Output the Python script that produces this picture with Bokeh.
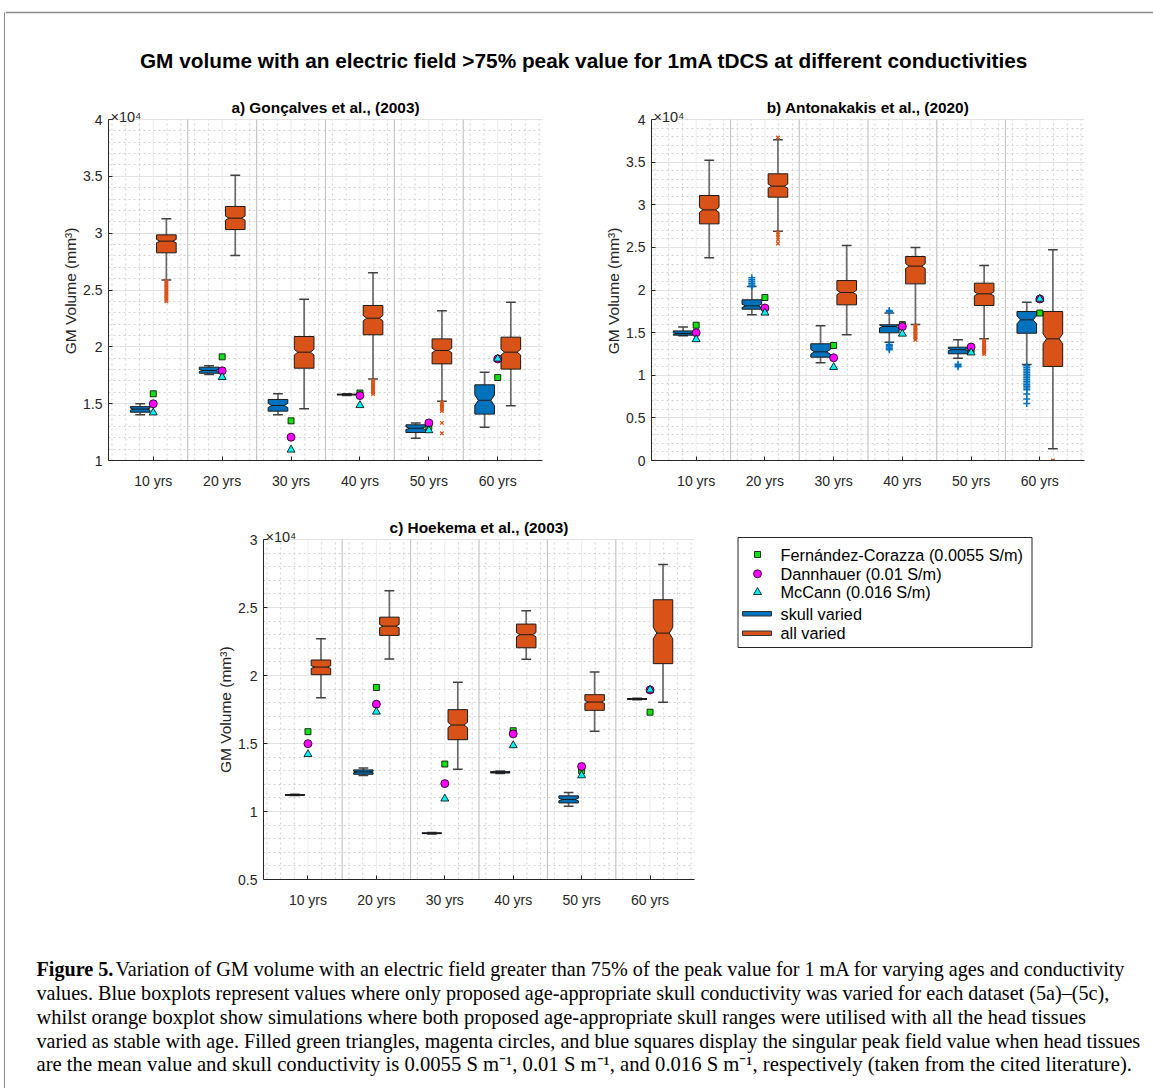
import numpy as np
from bokeh.plotting import figure
from bokeh.models import Range1d, FixedTicker, SingleIntervalTicker, CustomJSTickFormatter, Label
from bokeh.layouts import column, row
from bokeh.embed import file_html
from bokeh.resources import INLINE

# ---------------- data (GM volume, x10^4 mm^3) ----------------
AGES = ["10 yrs", "20 yrs", "30 yrs", "40 yrs", "50 yrs", "60 yrs"]

# single literature values (same in every panel)
FERNANDEZ = [1.587, 1.912, 1.349, 1.594, 1.300, 1.730]
DANNHAUER = [1.499, 1.789, 1.205, 1.571, 1.331, 1.894]
MCCANN = [1.421, 1.733, 1.094, 1.486, 1.265, 1.895]

# box statistics per age: (lower whisker, q1, median, q3, upper whisker)
GON_SKULL = [(1.402, 1.425, 1.452, 1.474, 1.499), (1.757, 1.768, 1.792, 1.821, 1.833),
             (1.402, 1.434, 1.484, 1.537, 1.587), (1.572, 1.577, 1.580, 1.584, 1.588),
             (1.196, 1.246, 1.284, 1.314, 1.331), (1.293, 1.408, 1.530, 1.666, 1.777)]
GON_ALL = [(2.589, 2.827, 2.930, 2.985, 3.126), (2.804, 3.032, 3.132, 3.235, 3.510),
           (1.455, 1.812, 1.953, 2.091, 2.419), (1.718, 2.106, 2.252, 2.364, 2.651),
           (1.522, 1.850, 1.968, 2.070, 2.317), (1.481, 1.804, 1.953, 2.085, 2.393)]
GON_SKULL_OUT = [[], [], [], [], [], []]
GON_ALL_OUT = [[2.58, 2.565, 2.55, 2.535, 2.52, 2.505, 2.49, 2.475, 2.46, 2.445, 2.43, 2.415, 2.40],
               [], [],
               [1.705, 1.69, 1.675, 1.66, 1.645, 1.63, 1.615, 1.60, 1.585],
               [1.51, 1.495, 1.48, 1.465, 1.45, 1.435, 1.331, 1.240],
               []]

ANT_SKULL = [(1.462, 1.470, 1.490, 1.520, 1.565), (1.709, 1.775, 1.814, 1.885, 2.041),
             (1.146, 1.212, 1.275, 1.369, 1.580), (1.388, 1.498, 1.572, 1.592, 1.730),
             (1.200, 1.252, 1.300, 1.329, 1.416), (1.126, 1.493, 1.650, 1.748, 1.857)]
ANT_ALL = [(2.378, 2.776, 2.940, 3.108, 3.523), (2.690, 3.089, 3.218, 3.363, 3.761),
           (1.474, 1.826, 1.971, 2.111, 2.522), (1.595, 2.072, 2.280, 2.393, 2.499),
           (1.427, 1.818, 1.955, 2.080, 2.287), (0.137, 1.103, 1.427, 1.748, 2.471)]
ANT_SKULL_OUT = [[],
                 [2.04, 2.06, 2.08, 2.10, 2.12, 2.145],
                 [],
                 [1.745, 1.76, 1.36, 1.345, 1.33, 1.315, 1.30],
                 [1.13, 1.115, 1.10],
                 [1.11, 1.09, 1.07, 1.05, 1.03, 1.01, 0.99, 0.97, 0.95, 0.93, 0.91, 0.89,
                  0.87, 0.85, 0.83, 0.78, 0.72, 0.67]]
ANT_ALL_OUT = [[],
               [3.789, 2.675, 2.65, 2.62, 2.59, 2.545],
               [],
               [1.58, 1.565, 1.55, 1.535, 1.52, 1.505, 1.49, 1.475, 1.46, 1.445, 1.43, 1.415],
               [1.41, 1.395, 1.38, 1.365, 1.35, 1.335, 1.32, 1.305, 1.29, 1.27, 1.25],
               [0.0]]

HOE_SKULL = [(1.117, 1.119, 1.122, 1.125, 1.127), (1.264, 1.274, 1.291, 1.306, 1.320),
             (0.835, 0.837, 0.840, 0.843, 0.845), (1.279, 1.283, 1.288, 1.293, 1.298),
             (1.039, 1.063, 1.088, 1.115, 1.139), (1.822, 1.824, 1.827, 1.830, 1.832)]
HOE_ALL = [(1.837, 2.006, 2.062, 2.114, 2.270), (2.121, 2.295, 2.363, 2.429, 2.623),
           (1.310, 1.528, 1.636, 1.749, 1.950), (2.119, 2.204, 2.300, 2.378, 2.476),
           (1.590, 1.744, 1.805, 1.859, 2.025), (1.803, 2.087, 2.312, 2.557, 2.816)]
HOE_SKULL_OUT = [[], [], [], [], [], []]
HOE_ALL_OUT = [[], [], [], [], [], []]

SUPTITLE = "GM volume with an electric field >75% peak value for 1mA tDCS at different conductivities"
TITLES = ["a) Gonçalves et al., (2003)", "b) Antonakakis et al., (2020)", "c) Hoekema et al., (2003)"]
YLABEL = "GM Volume (mm³)"
EXPONENT = "×10⁴"
LEGEND = ["Fernández-Corazza (0.0055 S/m)", "Dannhauer (0.01 S/m)", "McCann (0.016 S/m)",
          "skull varied", "all varied"]
CAPTION_BOLD = "Figure 5."
CAPTION = [
    "Variation of GM volume with an electric field greater than 75% of the peak value for 1 mA for varying ages and conductivity",
    "values. Blue boxplots represent values where only proposed age-appropriate skull conductivity was varied for each dataset (5a)–(5c),",
    "whilst orange boxplot show simulations where both proposed age-appropriate skull ranges were utilised with all the head tissues",
    "varied as stable with age. Filled green triangles, magenta circles, and blue squares display the singular peak field value when head tissues",
    "are the mean value and skull conductivity is 0.0055 S m⁻¹, 0.01 S m⁻¹, and 0.016 S m⁻¹, respectively (taken from the cited literature).",
]

# ---------------- styling ----------------
BLUE = "#0072BD"
ORANGE = "#D95319"
AX = "#262626"
SANS = "Liberation Sans"
SERIF = "Liberation Serif"
GREEN = "#11e011"
MAGENTA = "#ff00ff"
CYAN = "#00f0f0"
BORDER = "#8c8c8c"
NBSP = "\u00a0"


def notched(c, w, q1, med, q3, frac):
    h = frac * (q3 - q1)
    d = 0.36 * w
    xs = [c - w, c + w, c + w, c + w - d, c + w, c + w, c - w, c - w, c - w + d, c - w]
    ys = [q1, q1, med - h, med, med + h, q3, q3, med + h, med, med - h]
    return xs, ys


def draw_group(p, stats, outs, offset, color, frac, marker, msize, mwidth):
    w = 0.1425
    wx0, wy0, wx1, wy1 = [], [], [], []
    cx0, cx1, cy = [], [], []
    bxs, bys = [], []
    mx0, mx1, my = [], [], []
    ox, oy = [], []
    for i, (lo, q1, med, q3, hi) in enumerate(stats):
        c = i + 1 + offset
        wx0 += [c, c]; wx1 += [c, c]; wy0 += [q3, q1]; wy1 += [hi, lo]
        cx0 += [c - w / 2, c - w / 2]; cx1 += [c + w / 2, c + w / 2]; cy += [hi, lo]
        xs, ys = notched(c, w, q1, med, q3, frac)
        bxs.append(xs); bys.append(ys)
        d = 0.36 * w
        mx0.append(c - w + d); mx1.append(c + w - d); my.append(med)
        for v in outs[i]:
            ox.append(c); oy.append(v)
    p.segment(wx0, wy0, wx1, wy1, line_color="#6a6a6a", line_width=1.7)
    p.segment(cx0, cy, cx1, cy, line_color="#404040", line_width=1.5)
    p.patches(bxs, bys, fill_color=color, line_color="#1a1a1a", line_width=1)
    p.segment(mx0, my, mx1, my, line_color="#1a1a1a", line_width=1)
    if ox:
        p.scatter(ox, oy, marker=marker, size=msize, line_color=color, line_width=mwidth)


def make_panel(title, ylo, yhi, skull, allv, skull_out, all_out,
               fw, plot_h, top_px, mbl, mbr, mbb, label_pad):
    # frame extends top_px above the plotting box so the titles can sit inside it
    yend = yhi + top_px * (yhi - ylo) / plot_h
    per_px = (yhi - ylo) / plot_h
    p = figure(frame_width=fw, frame_height=plot_h + top_px, x_range=Range1d(0.35, 6.65),
               y_range=Range1d(ylo, yend), output_backend="svg", toolbar_location=None,
               min_border_left=mbl, min_border_right=mbr, min_border_top=0,
               min_border_bottom=mbb)
    p.outline_line_color = None
    p.background_fill_color = "white"
    p.border_fill_color = "white"

    xt = FixedTicker(ticks=[1, 2, 3, 4, 5, 6], minor_ticks=[])
    p.xaxis.ticker = xt
    p.xaxis.major_label_overrides = {i + 1: a for i, a in enumerate(AGES)}
    yt = SingleIntervalTicker(interval=0.5, num_minor_ticks=5)
    p.yaxis.ticker = yt
    p.yaxis.bounds = (ylo, yhi)
    p.yaxis.formatter = CustomJSTickFormatter(code="return String(Math.round(tick*10)/10);")
    for ax in (p.xaxis[0], p.yaxis[0]):
        ax.axis_line_color = AX
        ax.axis_line_width = 1
        ax.major_tick_in = 4
        ax.major_tick_out = 0
        ax.major_tick_line_color = AX
        ax.minor_tick_line_color = None
        ax.major_label_text_font = SANS
        ax.major_label_text_font_size = "14px"
        ax.major_label_text_color = AX
    p.xaxis.major_label_standoff = 12
    p.yaxis.major_label_standoff = 2
    # padding keeps the label centred on the plotting box rather than the taller frame
    p.yaxis.axis_label = YLABEL + NBSP * label_pad
    p.yaxis.axis_label_text_font = SANS
    p.yaxis.axis_label_text_font_size = "15.5px"
    p.yaxis.axis_label_text_font_style = "normal"
    p.yaxis.axis_label_text_color = AX
    p.yaxis.axis_label_standoff = 1

    p.xgrid.visible = False
    p.ygrid.ticker = yt
    p.ygrid.bounds = (ylo, yhi)
    p.ygrid.grid_line_color = "#e2e2e2"
    p.ygrid.minor_grid_line_color = "#d2d2d2"
    p.ygrid.minor_grid_line_dash = "2 3"

    # vertical grid (limited to the plotting box)
    majors = [1, 2, 3, 4, 5, 6]
    minors = [round(k * 0.2, 1) for k in range(2, 34) if k % 5 != 0]
    seps = [1.5, 2.5, 3.5, 4.5, 5.5]
    p.segment(minors, [ylo] * len(minors), minors, [yhi] * len(minors),
              line_color="#d2d2d2", line_width=1, line_dash="2 3")
    p.segment(majors, [ylo] * 6, majors, [yhi] * 6, line_color="#ececec", line_width=1)
    p.segment(seps, [ylo] * 5, seps, [yhi] * 5, line_color="#c6c6c6", line_width=1.2)

    draw_group(p, skull, skull_out, -0.19, BLUE, 0.18, "cross", 7, 1.5)
    draw_group(p, allv, all_out, 0.19, ORANGE, 0.09, "x", 5, 1.3)

    xs = [1, 2, 3, 4, 5, 6]
    p.scatter(xs, FERNANDEZ, marker="square", size=6, fill_color=GREEN, line_color="black", line_width=0.8)
    p.scatter(xs, DANNHAUER, marker="circle", size=8, fill_color=MAGENTA, line_color="black", line_width=0.8)
    p.scatter(xs, MCCANN, marker="triangle", size=8, fill_color=CYAN, line_color="black", line_width=0.8)

    p.add_layout(Label(x=3.5, y=yhi + 12 * per_px, text=title, text_align="center",
                       text_baseline="middle", text_font=SANS, text_font_size="15.4px",
                       text_font_style="bold", text_color="black"))
    p.add_layout(Label(x=0.35, y=yhi + 2.5 * per_px, text=EXPONENT, x_offset=2,
                       text_baseline="alphabetic", text_font=SANS, text_font_size="14.5px",
                       text_color=AX))
    return p


pa = make_panel(TITLES[0], 1, 4, GON_SKULL, GON_ALL, GON_SKULL_OUT, GON_ALL_OUT,
                434, 341, 24, 103, 38, 45, 6)
pb = make_panel(TITLES[1], 0, 4, ANT_SKULL, ANT_ALL, ANT_SKULL_OUT, ANT_ALL_OUT,
                433, 341, 24, 71, 69, 45, 6)
pc = make_panel(TITLES[2], 0.5, 3, HOE_SKULL, HOE_ALL, HOE_SKULL_OUT, HOE_ALL_OUT,
                431, 340, 34, 258, 26, 51, 8)


def blank(w, h, bottom=0):
    f = figure(frame_width=w, frame_height=h, x_range=Range1d(0, w), y_range=Range1d(h, 0),
               output_backend="svg", toolbar_location=None, min_border=0,
               min_border_bottom=bottom)
    f.axis.visible = False
    f.grid.visible = False
    f.outline_line_color = None
    return f


# left border strip
lb = blank(5, 1088)
lb.segment([4.25], [12], [4.25], [1088], line_color=BORDER, line_width=1.5)

# header
hd = blank(1148, 95)
hd.segment([0], [12], [1148], [12], line_color=BORDER, line_width=1.5)
hd.add_layout(Label(x=578.5, y=60, text=SUPTITLE, text_align="center", text_baseline="middle",
                    text_font=SANS, text_font_size="20.8px",
                    text_font_style="bold", text_color="black"))

# legend (frame matched to panel c so row alignment does not distort it)
lg = blank(433, 374, bottom=51)
lg.quad(left=[17.5], right=[311.5], top=[32], bottom=[142], fill_color="white",
        line_color=AX, line_width=1)
lg.scatter([37], [49], marker="square", size=6, fill_color=GREEN, line_color="black", line_width=0.8)
lg.scatter([37], [68.3], marker="circle", size=8, fill_color=MAGENTA, line_color="black", line_width=0.8)
lg.scatter([37], [86.7], marker="triangle", size=8, fill_color=CYAN, line_color="black", line_width=0.8)
lg.quad(left=[22, 22], right=[51, 51], top=[106, 125.5], bottom=[110.5, 130],
        fill_color=[BLUE, ORANGE], line_color="#333333", line_width=1)
for txt, yy in zip(LEGEND, [49, 68.3, 86.7, 108.3, 127.7]):
    lg.add_layout(Label(x=60, y=yy, text=txt, text_baseline="middle", text_font=SANS,
                        text_font_size="16.3px", text_color="black"))

# caption
cp = blank(1148, 158)
cap_y = [38, 62, 86, 110, 133]
cap_size = ["20.15px", "20.15px", "20.45px", "20.1px", "20.65px"]
cp.add_layout(Label(x=31, y=cap_y[0], text=CAPTION_BOLD, text_baseline="middle",
                    text_font=SERIF, text_font_size=cap_size[0],
                    text_font_style="bold", text_color="black"))
for i, (txt, yy) in enumerate(zip(CAPTION, cap_y)):
    cp.add_layout(Label(x=110 if i == 0 else 31, y=yy, text=txt, text_baseline="middle",
                        text_font=SERIF, text_font_size=cap_size[i], text_color="black"))

layout = row(lb, column(hd, row(pa, pb), row(pc, lg), cp))
open("out.html", "w").write(file_html(layout, INLINE))
